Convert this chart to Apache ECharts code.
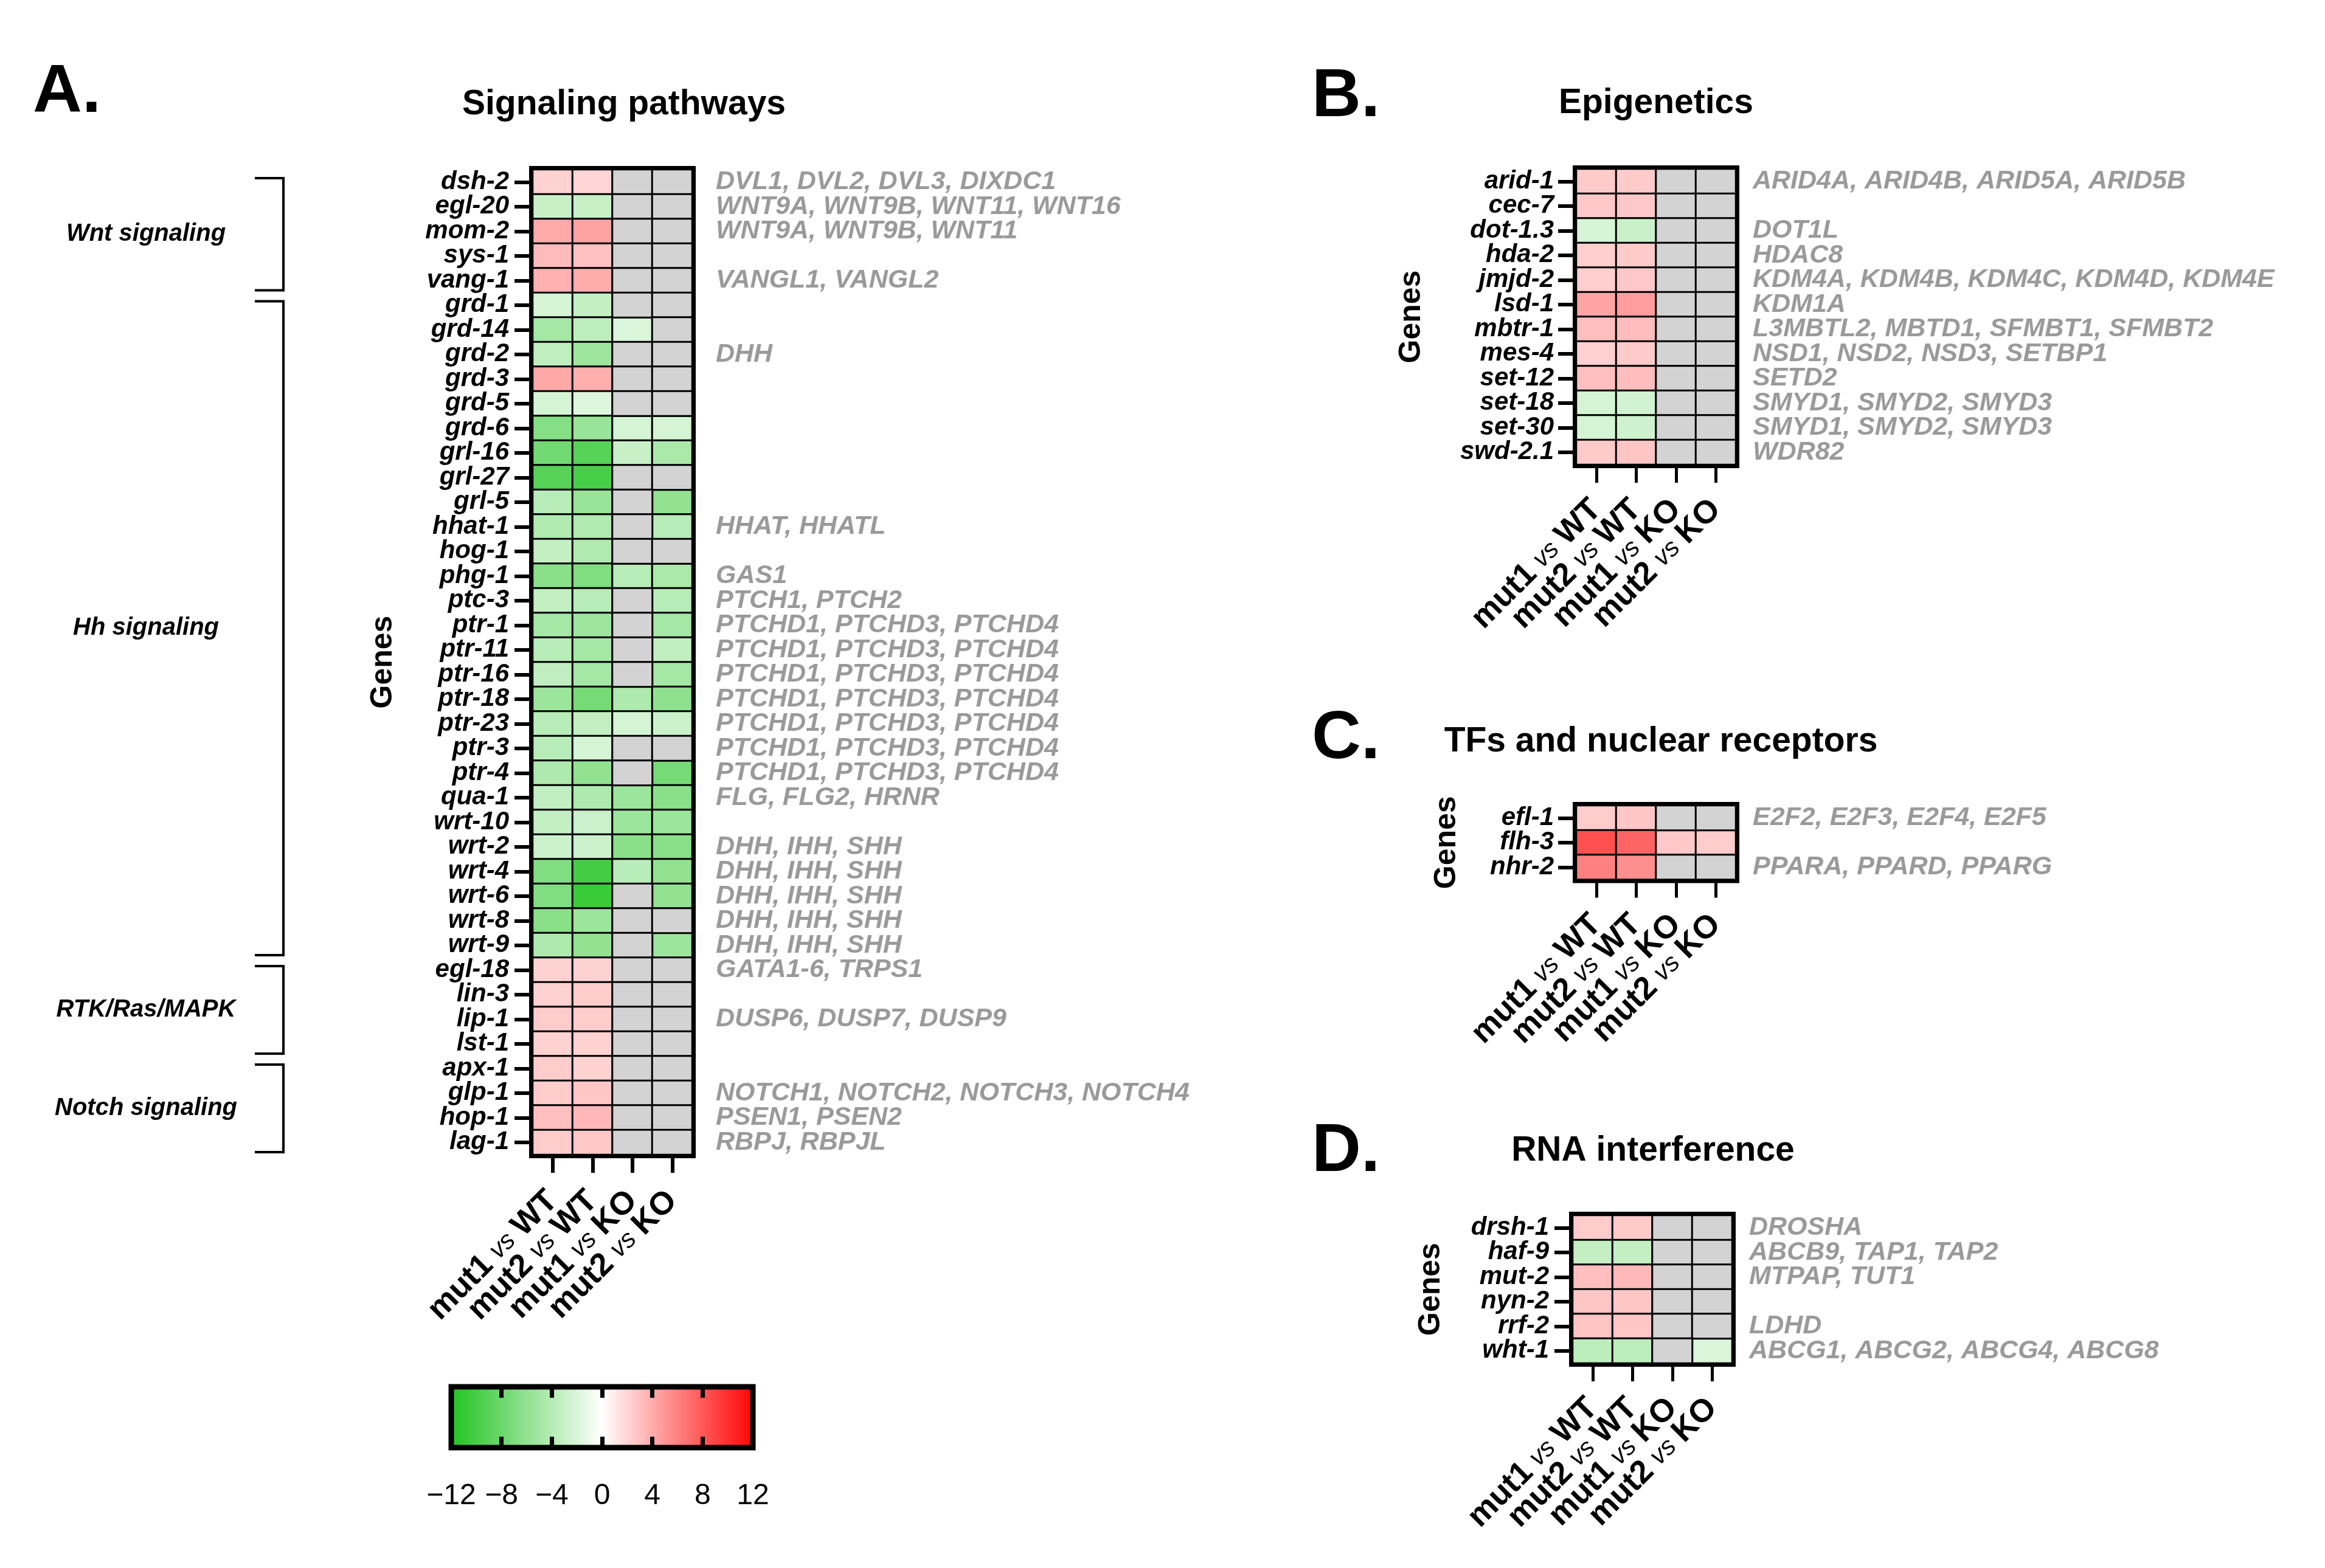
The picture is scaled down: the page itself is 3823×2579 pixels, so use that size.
<!DOCTYPE html>
<html>
<head>
<meta charset="utf-8">
<script src="https://cdn.jsdelivr.net/npm/echarts@6.0.0/dist/echarts.min.js"></script>
<style>html,body{margin:0;padding:0;background:#fff}#c{width:3823px;height:2579px}</style>
</head>
<body>
<div id="c"></div>
<script>
// ---------------- DATA ----------------
const comparisons = ['mut1 vs WT', 'mut2 vs WT', 'mut1 vs KO', 'mut2 vs KO'];

const genesA = ['dsh-2','egl-20','mom-2','sys-1','vang-1','grd-1','grd-14','grd-2','grd-3','grd-5','grd-6','grl-16','grl-27','grl-5','hhat-1','hog-1','phg-1','ptc-3','ptr-1','ptr-11','ptr-16','ptr-18','ptr-23','ptr-3','ptr-4','qua-1','wrt-10','wrt-2','wrt-4','wrt-6','wrt-8','wrt-9','egl-18','lin-3','lip-1','lst-1','apx-1','glp-1','hop-1','lag-1'];
const orthoA = ['DVL1, DVL2, DVL3, DIXDC1','WNT9A, WNT9B, WNT11, WNT16','WNT9A, WNT9B, WNT11','','VANGL1, VANGL2','','','DHH','','','','','','','HHAT, HHATL','','GAS1','PTCH1, PTCH2','PTCHD1, PTCHD3, PTCHD4','PTCHD1, PTCHD3, PTCHD4','PTCHD1, PTCHD3, PTCHD4','PTCHD1, PTCHD3, PTCHD4','PTCHD1, PTCHD3, PTCHD4','PTCHD1, PTCHD3, PTCHD4','PTCHD1, PTCHD3, PTCHD4','FLG, FLG2, HRNR','','DHH, IHH, SHH','DHH, IHH, SHH','DHH, IHH, SHH','DHH, IHH, SHH','DHH, IHH, SHH','GATA1-6, TRPS1','','DUSP6, DUSP7, DUSP9','','','NOTCH1, NOTCH2, NOTCH3, NOTCH4','PSEN1, PSEN2','RBPJ, RBPJL'];
const valuesA = [
  [2.1, 2.0, null, null],
  [-3.0, -3.0, null, null],
  [4.0, 4.4, null, null],
  [3.2, 2.9, null, null],
  [3.7, 3.9, null, null],
  [-2.3, -3.2, null, null],
  [-4.8, -3.5, -2.0, null],
  [-3.4, -5.2, null, null],
  [4.1, 3.8, null, null],
  [-2.3, -1.8, null, null],
  [-6.5, -5.5, -2.3, -2.3],
  [-7.5, -9.0, -3.0, -4.5],
  [-9.0, -9.8, null, null],
  [-3.8, -5.5, null, -5.8],
  [-4.2, -4.2, null, -3.8],
  [-3.2, -4.2, null, null],
  [-6.3, -6.8, -3.8, -4.5],
  [-3.2, -3.8, null, -3.8],
  [-4.8, -5.2, null, -4.8],
  [-3.8, -4.8, null, -3.3],
  [-3.3, -4.8, null, -4.8],
  [-5.3, -7.3, -4.3, -6.0],
  [-3.8, -3.2, -2.3, -2.8],
  [-3.8, -2.3, null, null],
  [-4.3, -5.8, null, -7.3],
  [-3.3, -4.3, -5.3, -6.3],
  [-3.2, -2.8, -5.3, -5.3],
  [-2.8, -2.8, -6.3, -6.3],
  [-6.8, -10.0, -3.8, -5.8],
  [-6.8, -10.5, null, -5.8],
  [-6.3, -5.3, null, null],
  [-4.3, -5.8, null, -5.3],
  [2.1, 2.1, null, null],
  [2.1, 2.4, null, null],
  [2.4, 2.4, null, null],
  [2.1, 2.1, null, null],
  [2.4, 2.1, null, null],
  [2.4, 2.7, null, null],
  [3.0, 3.4, null, null],
  [2.4, 2.6, null, null]
];

const genesB = ['arid-1','cec-7','dot-1.3','hda-2','jmjd-2','lsd-1','mbtr-1','mes-4','set-12','set-18','set-30','swd-2.1'];
const orthoB = ['ARID4A, ARID4B, ARID5A, ARID5B','','DOT1L','HDAC8','KDM4A, KDM4B, KDM4C, KDM4D, KDM4E','KDM1A','L3MBTL2, MBTD1, SFMBT1, SFMBT2','NSD1, NSD2, NSD3, SETBP1','SETD2','SMYD1, SMYD2, SMYD3','SMYD1, SMYD2, SMYD3','WDR82'];
const valuesB = [
  [2.5, 2.5, null, null],
  [2.6, 2.6, null, null],
  [-2.2, -2.9, null, null],
  [2.3, 2.5, null, null],
  [2.3, 2.6, null, null],
  [4.3, 4.6, null, null],
  [3.0, 3.1, null, null],
  [2.2, 2.5, null, null],
  [3.0, 3.1, null, null],
  [-2.3, -2.4, null, null],
  [-2.3, -2.6, null, null],
  [2.5, 2.8, null, null]
];

const genesC = ['efl-1','flh-3','nhr-2'];
const orthoC = ['E2F2, E2F3, E2F4, E2F5','','PPARA, PPARD, PPARG'];
const valuesC = [
  [2.4, 2.7, null, null],
  [8.3, 7.3, 2.6, 2.4],
  [6.0, 5.3, null, null]
];

const genesD = ['drsh-1','haf-9','mut-2','nyn-2','rrf-2','wht-1'];
const orthoD = ['DROSHA','ABCB9, TAP1, TAP2','MTPAP, TUT1','','LDHD','ABCG1, ABCG2, ABCG4, ABCG8'];
const valuesD = [
  [2.4, 2.5, null, null],
  [-3.2, -3.2, null, null],
  [3.0, 3.3, null, null],
  [2.7, 2.7, null, null],
  [2.8, 2.7, null, null],
  [-3.6, -3.6, null, -2.0]
];

const groupNames = ['Wnt signaling', 'Hh signaling', 'RTK/Ras/MAPK', 'Notch signaling'];
const groupFirstGene = ['dsh-2', 'grd-1', 'egl-18', 'apx-1'];
const groupLastGene = ['vang-1', 'wrt-9', 'lst-1', 'lag-1'];

const panelLetters = ['A.', 'B.', 'C.', 'D.'];
const panelTitles = ['Signaling pathways', 'Epigenetics', 'TFs and nuclear receptors', 'RNA interference'];

const scaleMin = -12, scaleMax = 12, scaleStep = 4;
const scaleColors = ['#1ec31e', '#ffffff', '#ff0000'];
const naColor = '#d3d3d3';

// ---------------- LAYOUT ----------------
const FONT = '"Liberation Sans", Arial, Helvetica, sans-serif';
const panels = [
  {genes: genesA, ortho: orthoA, values: valuesA, left: 876, top: 279, width: 262, height: 1620, nameGap: 221, lMargin: 39, rMargin: 39, xMargin: 68, tickW: 6},
  {genes: genesB, ortho: orthoB, values: valuesB, left: 2592, top: 278, width: 262, height: 486, nameGap: 246, lMargin: 37, rMargin: 28, xMargin: 66, tickW: 5},
  {genes: genesC, ortho: orthoC, values: valuesC, left: 2592, top: 1325, width: 262, height: 121.5, nameGap: 188, lMargin: 37, rMargin: 28, xMargin: 66, tickW: 5},
  {genes: genesD, ortho: orthoD, values: valuesD, left: 2586, top: 1999, width: 262, height: 243, nameGap: 208, lMargin: 39, rMargin: 28, xMargin: 66, tickW: 5}
];

const grid = [], xAxis = [], yAxis = [], series = [];
const valueSeriesIdx = [];

panels.forEach((p, i) => {
  grid.push({left: p.left, top: p.top, width: p.width, height: p.height, show: true,
    borderColor: '#000', borderWidth: 12, backgroundColor: 'transparent', outerBoundsMode: 'none', containLabel: false});
  xAxis.push({
    type: 'category', gridIndex: i, data: comparisons, position: 'bottom',
    axisLine: {show: false}, splitLine: {show: false}, splitArea: {show: false},
    axisTick: {show: true, alignWithLabel: true, interval: 0, length: 30, lineStyle: {color: '#000', width: p.tickW}},
    axisLabel: {
      interval: 0, rotate: 45, margin: p.xMargin, color: '#000', fontSize: 46, fontFamily: FONT,
      formatter: v => { const s = v.split(' '); return '{b|' + s[0] + '} {v|' + s[1] + '} {b|' + s[2] + '}'; },
      rich: {
        b: {fontSize: 53, fontWeight: 'bold', color: '#000', fontFamily: FONT},
        v: {fontSize: 42, fontStyle: 'italic', color: '#000', fontFamily: FONT}
      }
    }
  });
  yAxis.push({
    type: 'category', gridIndex: i, data: p.genes, inverse: true, position: 'left',
    axisLine: {show: false}, splitLine: {show: false},
    axisTick: {show: true, alignWithLabel: true, interval: 0, length: 30, lineStyle: {color: '#000', width: 6}},
    axisLabel: {interval: 0, margin: p.lMargin, fontSize: 42, fontWeight: 'bold', fontStyle: 'italic', color: '#000', fontFamily: FONT},
    name: 'Genes', nameLocation: 'middle', nameGap: p.nameGap, nameRotate: 90,
    nameTextStyle: {fontSize: 50, fontWeight: 'bold', color: '#000', fontFamily: FONT}
  });
  yAxis.push({
    type: 'category', gridIndex: i, data: p.genes, inverse: true, position: 'right',
    axisLine: {show: false}, axisTick: {show: false}, splitLine: {show: false},
    axisLabel: {interval: 0, margin: p.rMargin, fontSize: 43, fontWeight: 'bold', fontStyle: 'italic', color: '#9a9a9a', fontFamily: FONT,
      formatter: (v, idx) => p.ortho[idx]}
  });
  const vals = [], na = [];
  p.values.forEach((row, r) => row.forEach((v, c) => {
    if (v === null) na.push([c, r, 0]); else vals.push([c, r, v]);
  }));
  valueSeriesIdx.push(series.length);
  series.push({type: 'heatmap', xAxisIndex: i, yAxisIndex: 2 * i, data: vals, progressive: 0,
    itemStyle: {borderColor: '#000', borderWidth: 3}, emphasis: {disabled: true}, silent: true});
  series.push({type: 'heatmap', xAxisIndex: i, yAxisIndex: 2 * i, data: na, progressive: 0,
    itemStyle: {color: naColor, borderColor: '#000', borderWidth: 3}, emphasis: {disabled: true}, silent: true});
});

// colour bar grid
grid.push({left: 742, top: 2281, width: 496, height: 100, show: true, borderColor: '#000', borderWidth: 9,
  outerBoundsMode: 'none', containLabel: false,
  backgroundColor: {type: 'linear', x: 0, y: 0, x2: 1, y2: 0,
    colorStops: [{offset: 0, color: scaleColors[0]}, {offset: 0.5, color: scaleColors[1]}, {offset: 1, color: scaleColors[2]}]}});
const cbAxisBase = {type: 'value', gridIndex: 4, min: scaleMin, max: scaleMax, interval: scaleStep,
  axisLine: {show: false}, splitLine: {show: false},
  axisTick: {show: true, inside: true, length: 18, lineStyle: {color: '#000', width: 7}}};
xAxis.push(Object.assign({}, cbAxisBase, {position: 'bottom',
  axisLabel: {margin: 56, fontSize: 48, color: '#000', fontFamily: FONT,
    formatter: v => v < 0 ? '\u2212' + Math.abs(v) : String(v)}}));
xAxis.push(Object.assign({}, cbAxisBase, {position: 'top', axisLabel: {show: false}}));
yAxis.push({type: 'value', gridIndex: 4, show: false, min: 0, max: 1});

const chart = echarts.init(document.getElementById('c'), null, {renderer: 'canvas', width: 3823, height: 2579});
chart.setOption({
  backgroundColor: '#fff',
  animation: false,
  textStyle: {fontFamily: FONT},
  grid, xAxis, yAxis, series,
  visualMap: {type: 'continuous', show: false, min: scaleMin, max: scaleMax, seriesIndex: valueSeriesIdx,
    inRange: {color: scaleColors}}
});

// ---------------- ANNOTATIONS ----------------
const graphics = [];
const letterPos = [[54, 153], [2157, 160], [2157, 1216], [2157, 1895]];
const titlePos = [[1026, 172], [2723, 170], [2731, 1220], [2718, 1893]];
panelLetters.forEach((t, i) => graphics.push({type: 'text', x: letterPos[i][0], y: letterPos[i][1],
  style: {text: t, fontSize: 112, fontWeight: 'bold', fontFamily: FONT, fill: '#000', align: 'left', verticalAlign: 'middle'}}));
panelTitles.forEach((t, i) => graphics.push({type: 'text', x: titlePos[i][0], y: titlePos[i][1],
  style: {text: t, fontSize: 57, fontWeight: 'bold', fontFamily: FONT, fill: '#000', align: 'center', verticalAlign: 'middle'}}));

// group brackets in panel A, positioned through the chart's own scales
const pxA = (c, r) => chart.convertToPixel({gridIndex: 0}, [c, r]);
const c0 = pxA(0, 0), c1 = pxA(1, 1);
const rowH = c1[1] - c0[1], cellW = c1[0] - c0[0];
const gridLeftA = c0[0] - cellW / 2;
const bx = gridLeftA - 410;
groupNames.forEach((name, g) => {
  const r0 = genesA.indexOf(groupFirstGene[g]), r1 = genesA.indexOf(groupLastGene[g]);
  const yTop = pxA(0, r0)[1] - rowH / 2 + 14;
  const yBot = pxA(0, r1)[1] + rowH / 2 - 4;
  const ls = {stroke: '#000', lineWidth: 4};
  graphics.push({type: 'polyline', shape: {points: [[bx - 47, yTop], [bx, yTop], [bx, yBot], [bx - 47, yBot]]}, style: Object.assign({fill: 'none'}, ls)});
  graphics.push({type: 'text', x: bx - 226, y: (yTop + yBot) / 2,
    style: {text: name, fontSize: 40, fontWeight: 'bold', fontStyle: 'italic', fontFamily: FONT, fill: '#000', align: 'center', verticalAlign: 'middle'}});
});
chart.setOption({graphic: graphics});
</script>
</body>
</html>
